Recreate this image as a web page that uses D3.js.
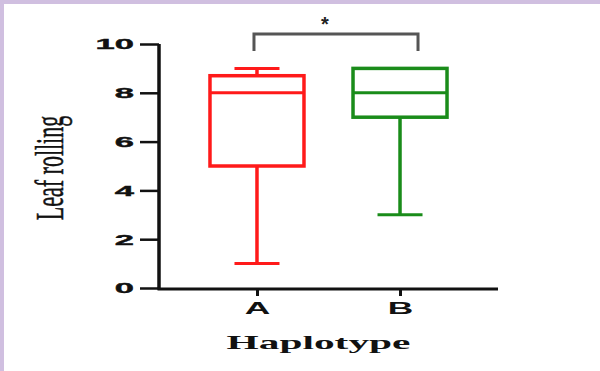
<!DOCTYPE html>
<html><head><meta charset="utf-8">
<script src="https://cdn.jsdelivr.net/npm/d3@7"></script>
<style>html,body{margin:0;padding:0;background:#fff;}svg{display:block;}</style>
</head><body>
<svg id="c" width="600" height="371"></svg>
<script>
const categories = ["A", "B"];
const mins = [1, 3];
const q1s = [5, 7];
const medians = [8, 8];
const q3s = [8.7, 9];
const maxs = [9, 9];
const colors = ["#ff1a1a", "#1a8c1a"];
const yTicks = [0, 2, 4, 6, 8, 10];
const yLabel = "Leaf rolling";
const xLabel = "Haplotype";
const sigLabel = "*";

const svg = d3.select("#c");
// purple frame
svg.append("rect").attr("x",0).attr("y",0).attr("width",600).attr("height",371).attr("fill","#fff");
svg.append("rect").attr("x",0).attr("y",0).attr("width",600).attr("height",4).attr("fill","#d0bfe0");
svg.append("rect").attr("x",0).attr("y",0).attr("width",4).attr("height",371).attr("fill","#d0bfe0");

const x0 = 159, x1 = 498, yb = 288, yt = 44;
const x = d3.scalePoint().domain(categories).range([x0, x1]).padding(0.685);
const y = d3.scaleLinear().domain([0, 10]).range([yb, yt]);
const SX = 2.3;

// y axis
const ya = svg.append("g").attr("transform", `translate(${x0},0)`)
  .call(d3.axisLeft(y).tickValues(yTicks).tickSize(19).tickPadding(6).tickFormat(d3.format("d")));
ya.select(".domain").attr("stroke","#111").attr("stroke-width",3.5).attr("d", `M0,${yt}V${yb+1.5}`);
ya.selectAll(".tick line").attr("stroke","#111").attr("stroke-width",2.5);
ya.selectAll(".tick text").each(function(){
  const t = d3.select(this);
  const xx = +t.attr("x");
  t.attr("x", null).attr("transform", `translate(${xx},0) scale(${SX},1)`)
   .attr("font-family","Liberation Sans, Arial, sans-serif").attr("font-weight","bold")
   .attr("font-size",15).attr("fill","#111").attr("stroke","#111").attr("stroke-width",0.4).attr("text-anchor","end");
});

// x axis
const xa = svg.append("g").attr("transform", `translate(0,${yb+1})`)
  .call(d3.axisBottom(x).tickSize(7).tickPadding(6));
xa.select(".domain").attr("stroke","#111").attr("stroke-width",3).attr("d", `M${x0-1.5},0H${x1}`);
xa.selectAll(".tick line").attr("stroke","#111").attr("stroke-width",3);
xa.selectAll(".tick text").each(function(){
  const t = d3.select(this);
  const yy = +t.attr("y");
  t.attr("y", null).attr("dy", null).attr("transform", `translate(0,${yy+12}) scale(${SX*0.96},1)`)
   .attr("font-family","Liberation Sans, Arial, sans-serif").attr("font-weight","bold")
   .attr("font-size",16).attr("fill","#111").attr("text-anchor","middle");
});

// boxes
const bw = 94, cw = 45;
const g = svg.append("g");
categories.forEach((c, i) => {
  const cx = x(c), col = colors[i];
  const gg = g.append("g").attr("stroke", col).attr("fill","none");
  gg.append("line").attr("x1",cx).attr("x2",cx).attr("y1",y(q1s[i])).attr("y2",y(mins[i])).attr("stroke-width",3.5);
  gg.append("line").attr("x1",cx).attr("x2",cx).attr("y1",y(q3s[i])).attr("y2",y(maxs[i])).attr("stroke-width",3.5);
  gg.append("line").attr("x1",cx-cw/2).attr("x2",cx+cw/2).attr("y1",y(mins[i])).attr("y2",y(mins[i])).attr("stroke-width",3);
  gg.append("line").attr("x1",cx-cw/2).attr("x2",cx+cw/2).attr("y1",y(maxs[i])).attr("y2",y(maxs[i])).attr("stroke-width",3);
  gg.append("rect").attr("x",cx-bw/2).attr("y",y(q3s[i])).attr("width",bw).attr("height",y(q1s[i])-y(q3s[i])).attr("fill","#fff").attr("stroke-width",3.5);
  gg.append("line").attr("x1",cx-bw/2).attr("x2",cx+bw/2).attr("y1",y(medians[i])).attr("y2",y(medians[i])).attr("stroke-width",3);
});

// significance bracket
const bx1 = x("A") - 3, bx2 = x("B") + 18, by = 34, bd = 17;
svg.append("path").attr("d", `M${bx1},${by+bd}V${by}H${bx2}V${by+bd}`)
  .attr("fill","none").attr("stroke","#555").attr("stroke-width",3);
svg.append("text").attr("x", (bx1+bx2)/2 - 11).attr("y", 31).attr("text-anchor","middle")
  .attr("font-family","Liberation Sans, Arial, sans-serif").attr("font-weight","bold").attr("font-size",20).attr("fill","#222").text(sigLabel);

// axis titles
svg.append("text").attr("transform", `translate(${(x0+x1)/2-10},349) scale(${SX},1)`).attr("text-anchor","middle")
  .attr("font-family","Liberation Serif, Times New Roman, serif").attr("font-weight","bold").attr("font-size",18).attr("fill","#111").text(xLabel);
svg.append("text").attr("transform", `translate(63,168) scale(1.8,1) rotate(-90)`).attr("text-anchor","middle")
  .attr("font-family","Liberation Serif, Times New Roman, serif").attr("font-size",22).attr("fill","#111").attr("stroke","#111").attr("stroke-width",0.3).text(yLabel);
</script>
</body></html>
